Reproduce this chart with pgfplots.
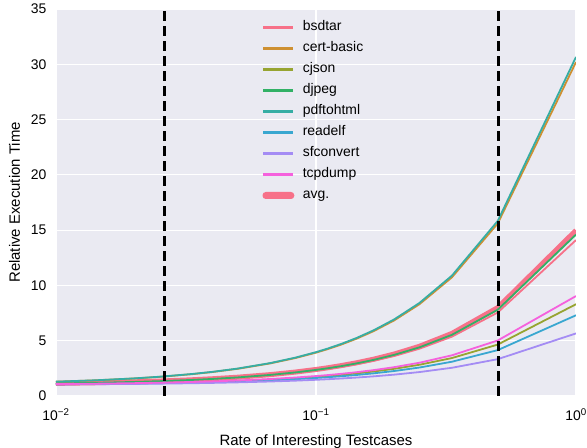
\documentclass[border=0pt]{standalone}
\usepackage{fontspec}
\setmainfont{Liberation Sans}
\usepackage{pgfplots}
\pgfplotsset{compat=1.18}
\usepackage{pgfplotstable}
\definecolor{c1}{HTML}{F77189}
\definecolor{c2}{HTML}{CE9032}
\definecolor{c3}{HTML}{97A431}
\definecolor{c4}{HTML}{32B166}
\definecolor{c5}{HTML}{36ADA4}
\definecolor{c6}{HTML}{39A7D0}
\definecolor{c7}{HTML}{A48CF4}
\definecolor{c8}{HTML}{F561DD}
\definecolor{bg}{HTML}{EAEAF2}
\pgfplotstableread{
p bsdtar cert cjson djpeg pdf readelf sf tcp avg
1 14.10 30.20 8.30 14.60 30.66 7.30 5.66 9.04 14.98
0.5 7.55 15.60 4.65 7.80 15.83 4.15 3.33 5.02 7.99
0.33333 5.367 10.733 3.433 5.533 10.887 3.10 2.553 3.68 5.66
0.25 4.275 8.30 2.825 4.40 8.415 2.575 2.165 3.01 4.495
0.2 3.62 6.84 2.46 3.72 6.932 2.26 1.932 2.608 3.796
0.16667 3.183 5.867 2.217 3.267 5.943 2.05 1.777 2.34 3.33
0.142857 2.871 5.171 2.043 2.943 5.237 1.90 1.666 2.149 2.997
0.125 2.638 4.65 1.913 2.70 4.708 1.788 1.583 2.005 2.748
0.11111 2.456 4.244 1.811 2.511 4.296 1.70 1.518 1.893 2.553
0.1 2.31 3.92 1.73 2.36 3.966 1.63 1.466 1.804 2.398
0.083333 2.092 3.433 1.608 2.133 3.472 1.525 1.388 1.67 2.165
0.066667 1.873 2.947 1.487 1.907 2.977 1.42 1.311 1.536 1.932
0.05 1.655 2.46 1.365 1.68 2.483 1.315 1.233 1.402 1.699
0.04 1.524 2.168 1.292 1.544 2.186 1.252 1.186 1.322 1.559
0.033333 1.437 1.973 1.243 1.453 1.989 1.21 1.155 1.268 1.466
0.025 1.328 1.73 1.183 1.34 1.742 1.158 1.117 1.201 1.35
0.02 1.262 1.584 1.146 1.272 1.593 1.126 1.093 1.161 1.28
0.0142857 1.187 1.417 1.104 1.194 1.424 1.09 1.067 1.115 1.2
0.01 1.131 1.292 1.073 1.136 1.297 1.063 1.047 1.08 1.14
}\data
\begin{document}
\begin{tikzpicture}
\begin{axis}[
  at={(0,0)}, anchor=south west,
  scale only axis, width=520bp, height=387bp,
  xmode=log, xmin=0.01, xmax=1, ymin=0, ymax=35,
  axis background/.style={fill=bg},
  axis line style={draw=none},
  grid=major, major grid style={white, line width=1.2bp},
  tick style={draw=none},
  ytick={0,5,...,35},
  xtick={0.01,0.1,1},
  xticklabels={10\textsuperscript{−2},10\textsuperscript{−1},10\textsuperscript{0}},
  tick label style={font=\fontsize{14}{16}\selectfont},
  yticklabel style={xshift=-6bp},
  xticklabel style={yshift=-9bp},
  /pgf/number format/assume math mode=true,
  xlabel={Rate of Interesting Testcases},
  ylabel={Relative Execution Time},
  label style={font=\fontsize{15}{18}\selectfont},
  xlabel style={yshift=-7bp},
  ylabel style={yshift=4bp},
  legend cell align=left,
  legend style={at={(0.391,0.985)}, anchor=north west, draw=none, fill=none,
    font=\fontsize{14}{16}\selectfont, row sep=0bp,
    nodes={text height=10.5bp, text depth=3.5bp, inner sep=3.5bp}},
  legend image code/.code={\fill[#1, draw=none] (0bp,-1.2bp) rectangle (30bp,1.2bp);\path (35bp,0bp);},
  every axis plot/.append style={line width=1.8bp},
]
\addplot[c1, line width=5bp, forget plot] table[x=p, y=avg] {\data};
\addplot[c1] table[x=p, y=bsdtar] {\data}; \addlegendentry{bsdtar}
\addplot[c2] table[x=p, y=cert] {\data}; \addlegendentry{cert-basic}
\addplot[c3] table[x=p, y=cjson] {\data}; \addlegendentry{cjson}
\addplot[c4] table[x=p, y=djpeg] {\data}; \addlegendentry{djpeg}
\addplot[c5] table[x=p, y=pdf] {\data}; \addlegendentry{pdftohtml}
\addplot[c6] table[x=p, y=readelf] {\data}; \addlegendentry{readelf}
\addplot[c7] table[x=p, y=sf] {\data}; \addlegendentry{sfconvert}
\addplot[c8] table[x=p, y=tcp] {\data}; \addlegendentry{tcpdump}
\addlegendimage{legend image code/.code={\fill[c1, rounded corners=2.5bp] (0bp,-2.6bp) rectangle (30bp,2.6bp);\path (35bp,0bp);}}\addlegendentry{avg.}
\addplot[black, line width=2.8bp, dash pattern=on 10bp off 5bp, forget plot] coordinates {(0.0262,0) (0.0262,35)};
\addplot[black, line width=2.8bp, dash pattern=on 10bp off 5bp, forget plot] coordinates {(0.502,0) (0.502,35)};
\end{axis}
\pgfresetboundingbox
\path[use as bounding box] (-56bp,-52bp) rectangle (531bp,396bp);
\end{tikzpicture}
\end{document}
